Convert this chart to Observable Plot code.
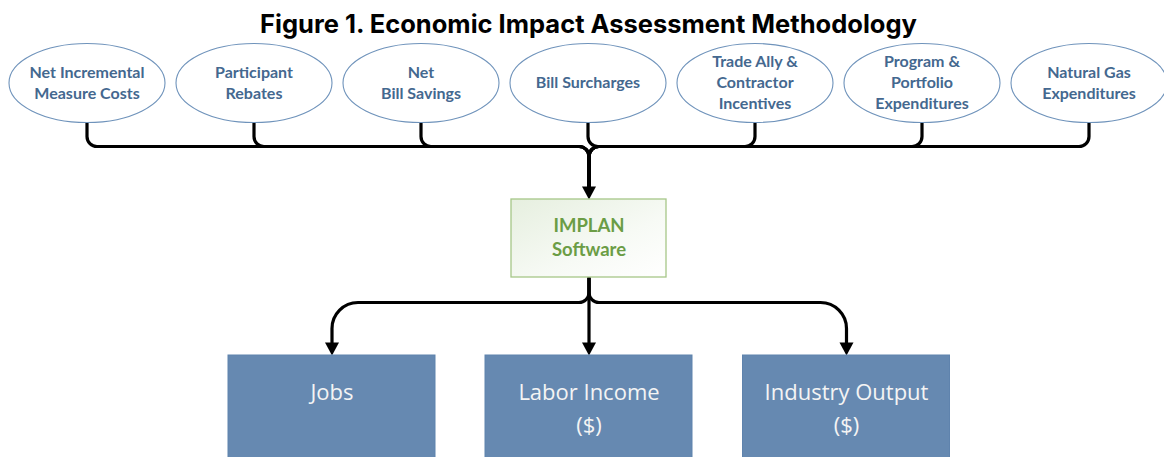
<!DOCTYPE html>
<html>
<head>
<meta charset="utf-8">
<script src="https://cdn.jsdelivr.net/npm/d3@7"></script>
<script src="https://cdn.jsdelivr.net/npm/@observablehq/plot@0.6"></script>
<style>
  html, body { margin: 0; padding: 0; background: #fff; }
  #wrap { width: 1164px; height: 457px; overflow: hidden; position: relative; }
  #title { box-sizing: border-box; height: 40px; width: 1164px; padding: 11px 0 0 13px; text-align: center; white-space: nowrap;
           font-family: Inter, "Noto Sans", sans-serif; font-weight: 700; font-size: 25.5px; line-height: 1; color: #000; }
  svg { display: block; }
</style>
</head>
<body>
<div id="wrap">
  <div id="title">Figure 1. Economic Impact Assessment Methodology</div>
  <div id="chart"></div>
</div>
<script>
// ---- data ----
const inputs = [
  "Net Incremental\nMeasure Costs",
  "Participant\nRebates",
  "Net\nBill Savings",
  "Bill Surcharges",
  "Trade Ally &\nContractor\nIncentives",
  "Program &\nPortfolio\nExpenditures",
  "Natural Gas\nExpenditures"
];
const tool = ["IMPLAN\nSoftware"];
const outputs = ["Jobs", "Labor Income\n($)", "Industry Output\n($)"];

// ---- layout (derived from index) ----
const W = 1164, H = 457, TOP = 40;
const inX0 = 86.5, inStep = 167, inCY = 82.5, inRY = 39.5, inRX = 78;
const hubX = 588.5;
const busY = 146;
const boxY1 = 199, boxY2 = 277, boxX1 = 511, boxX2 = 666;
const outBusY = 302, outTop = 355;
const outX = [331.5, 588.5, 846];
const outW = 207;

const inNodes = inputs.map((label, i) => ({label, x: inX0 + i * inStep, y: inCY}));
const outNodes = outputs.map((label, i) => ({label, x: outX[i]}));

// connector polylines
const topPaths = [];
inNodes.forEach((n, i) => {
  const bottom = n.y + inRY;
  const pts = Math.abs(n.x - hubX) < 1
    ? [[n.x, bottom], [hubX, boxY1 - 12]]
    : [[n.x, bottom], [n.x, busY], [hubX, busY], [hubX, boxY1 - 12]];
  pts.forEach(([x, y]) => topPaths.push({id: i, x, y}));
});
const botPaths = [];
outNodes.forEach((n, i) => {
  const pts = Math.abs(n.x - hubX) < 1
    ? [[hubX, boxY2], [hubX, outTop - 12]]
    : [[hubX, boxY2], [hubX, outBusY], [n.x, outBusY], [n.x, outTop - 12]];
  pts.forEach(([x, y]) => botPaths.push({id: i, x, y}));
});
const arrows = [{x: hubX, y: boxY1}, ...outNodes.map(n => ({x: n.x, y: outTop}))];

// rounded-corner curve
const rounded = (radii) => (context) => {
  let pts = [];
  return {
    areaStart() {}, areaEnd() {},
    lineStart() { pts = []; },
    point(x, y) { pts.push([+x, +y]); },
    lineEnd() {
      if (!pts.length) return;
      context.moveTo(pts[0][0], pts[0][1]);
      for (let i = 1; i < pts.length - 1; i++) {
        const r = radii[Math.min(i - 1, radii.length - 1)];
        context.arcTo(pts[i][0], pts[i][1], pts[i + 1][0], pts[i + 1][1], r);
      }
      const last = pts[pts.length - 1];
      context.lineTo(last[0], last[1]);
    }
  };
};

const ellipseSymbol = {
  draw(ctx) {
    const rx = inRX, ry = inRY, k = 0.5523;
    ctx.moveTo(rx, 0);
    ctx.bezierCurveTo(rx, ry * k, rx * k, ry, 0, ry);
    ctx.bezierCurveTo(-rx * k, ry, -rx, ry * k, -rx, 0);
    ctx.bezierCurveTo(-rx, -ry * k, -rx * k, -ry, 0, -ry);
    ctx.bezierCurveTo(rx * k, -ry, rx, -ry * k, rx, 0);
    ctx.closePath();
  }
};
const arrowSymbol = {
  draw(ctx) {
    ctx.moveTo(0, 0);
    ctx.lineTo(-7, -13);
    ctx.lineTo(7, -13);
    ctx.closePath();
  }
};

// text lines
const inLines = [];
inNodes.forEach(n => {
  const ls = n.label.split("\n");
  ls.forEach((t, j) => inLines.push({t, x: n.x, y: n.y + (j - (ls.length - 1) / 2) * 21}));
});
const toolLines = tool[0].split("\n").map((t, j) => ({t, x: hubX, y: 226 + j * 24}));
const outLines = [];
outNodes.forEach(n => {
  n.label.split("\n").forEach((t, j) => outLines.push({t, x: n.x, y: 392 + j * 33}));
});

const defs = () => {
  const ns = "http://www.w3.org/2000/svg";
  const d = document.createElementNS(ns, "defs");
  d.innerHTML = `<linearGradient id="gIm" x1="0" y1="0" x2="1" y2="1">
    <stop offset="0" stop-color="#e6efdf"/><stop offset="0.6" stop-color="#f7faf5"/><stop offset="1" stop-color="#ffffff"/></linearGradient>`;
  return d;
};

const chart = Plot.plot({
  width: W,
  height: H - TOP,
  margin: 0,
  x: {type: "linear", domain: [0, W], range: [0, W], axis: null},
  y: {type: "linear", domain: [TOP, H], range: [0, H - TOP], axis: null},
  style: {background: "white"},
  marks: [
    defs,
    Plot.line(topPaths, {x: "x", y: "y", z: "id", stroke: "#000", strokeWidth: 3.2, curve: rounded([10, 10]), strokeLinecap: "butt"}),
    Plot.line(botPaths, {x: "x", y: "y", z: "id", stroke: "#000", strokeWidth: 3.2, curve: rounded([10, 26]), strokeLinecap: "butt"}),
    Plot.dot(arrows, {x: "x", y: "y", symbol: arrowSymbol, fill: "#000", stroke: "none"}),
    Plot.dot(inNodes, {x: "x", y: "y", symbol: ellipseSymbol, r: 10, fill: "white", stroke: "#6f93bb", strokeWidth: 1.1}),
    Plot.text(inLines, {x: "x", y: "y", text: "t", fill: "#44688f", fontFamily: "Lato", fontWeight: 700, fontSize: 16}),
    Plot.rect(tool, {x1: boxX1, x2: boxX2, y1: boxY1, y2: boxY2, fill: "url(#gIm)", stroke: "#a6c788", strokeWidth: 1.3}),
    Plot.text(toolLines, {x: "x", y: "y", text: "t", fill: "#6b9d45", fontFamily: "Lato", fontWeight: 700, fontSize: 18.5}),
    Plot.rect(outNodes, {x1: d => d.x - outW / 2, x2: d => d.x + outW / 2, y1: outTop, y2: H + 20, fill: "#6689b1", stroke: "#5f83ad", strokeWidth: 1}),
    Plot.text(outLines, {x: "x", y: "y", text: "t", fill: "#f4f4f4", fontFamily: "Open Sans", fontWeight: 400, fontSize: 22})
  ]
});
document.getElementById("chart").appendChild(chart);
</script>
</body>
</html>
